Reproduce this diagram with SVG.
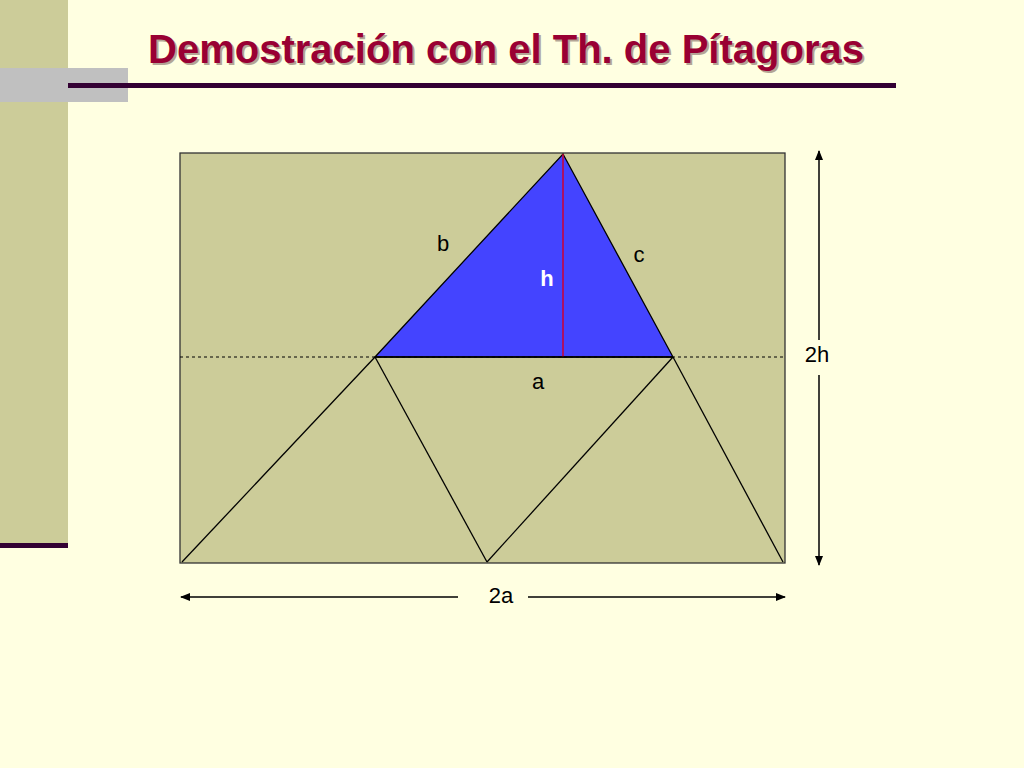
<svg xmlns="http://www.w3.org/2000/svg" width="1024" height="768" viewBox="0 0 1024 768">
<style>
.lbl{font-family:"Liberation Sans",Arial,sans-serif;font-size:22px;fill:#000;text-anchor:middle}
.ln{stroke:#000;stroke-width:1.3;fill:none}
.dim{stroke:#000;stroke-width:1.5;fill:none}
.ttl{font-family:"Liberation Sans",Arial,sans-serif;font-weight:bold;font-size:40px}
</style>
<defs>
<marker id="ah" markerWidth="10" markerHeight="8" refX="9" refY="4" orient="auto" markerUnits="userSpaceOnUse">
<path d="M0,0 L10,4 L0,8 Z" fill="#000"/>
</marker>
</defs>
<rect width="1024" height="768" fill="#FFFFE1"/>
<rect x="0" y="0" width="68" height="545" fill="#CCCC99"/>
<rect x="0" y="543" width="68" height="5" fill="#330033"/>
<rect x="0" y="68" width="128" height="34" fill="#C0C0C0"/>
<rect x="68" y="83" width="828" height="5" fill="#330033"/>
<text class="ttl" x="150" y="65" fill="#5a3a3a" opacity="0.45" textLength="716" lengthAdjust="spacingAndGlyphs">Demostración con el Th. de Pítagoras</text>
<text class="ttl" x="148" y="63" fill="#990033" textLength="716" lengthAdjust="spacingAndGlyphs">Demostración con el Th. de Pítagoras</text>

<g id="rect">
<rect x="180" y="153" width="605" height="410" fill="#CCCC99" stroke="#333" stroke-width="1.3"/>
</g>
<g id="triangle">
<polygon points="375,357 563,154 673,357" fill="#4444FF" stroke="#000" stroke-width="1.3"/>
<line x1="563" y1="154" x2="563" y2="357" stroke="#CC0033" stroke-width="1.5"/>
</g>
<g id="connectors">
<line x1="180" y1="357" x2="785" y2="357" stroke="#000" stroke-width="1" stroke-dasharray="3,3"/>
<line class="ln" x1="375" y1="357" x2="673" y2="357"/>
<line class="ln" x1="375" y1="357" x2="182" y2="562"/>
<line class="ln" x1="375" y1="357" x2="487" y2="562"/>
<line class="ln" x1="673" y1="357" x2="487" y2="562"/>
<line class="ln" x1="673" y1="357" x2="783" y2="562"/>
<line class="dim" x1="458" y1="597" x2="181" y2="597" marker-end="url(#ah)"/>
<line class="dim" x1="528" y1="597" x2="785" y2="597" marker-end="url(#ah)"/>
<line class="dim" x1="819" y1="340" x2="819" y2="151" marker-end="url(#ah)"/>
<line class="dim" x1="819" y1="375" x2="819" y2="565" marker-end="url(#ah)"/>
</g>
<g id="labels">
<text class="lbl" x="443" y="251">b</text>
<text class="lbl" x="639" y="262">c</text>
<text class="lbl" x="547" y="286" style="fill:#fff;font-weight:bold">h</text>
<text class="lbl" x="538" y="389">a</text>
<text class="lbl" x="817" y="362">2h</text>
<text class="lbl" x="501" y="603">2a</text>
</g>
</svg>
